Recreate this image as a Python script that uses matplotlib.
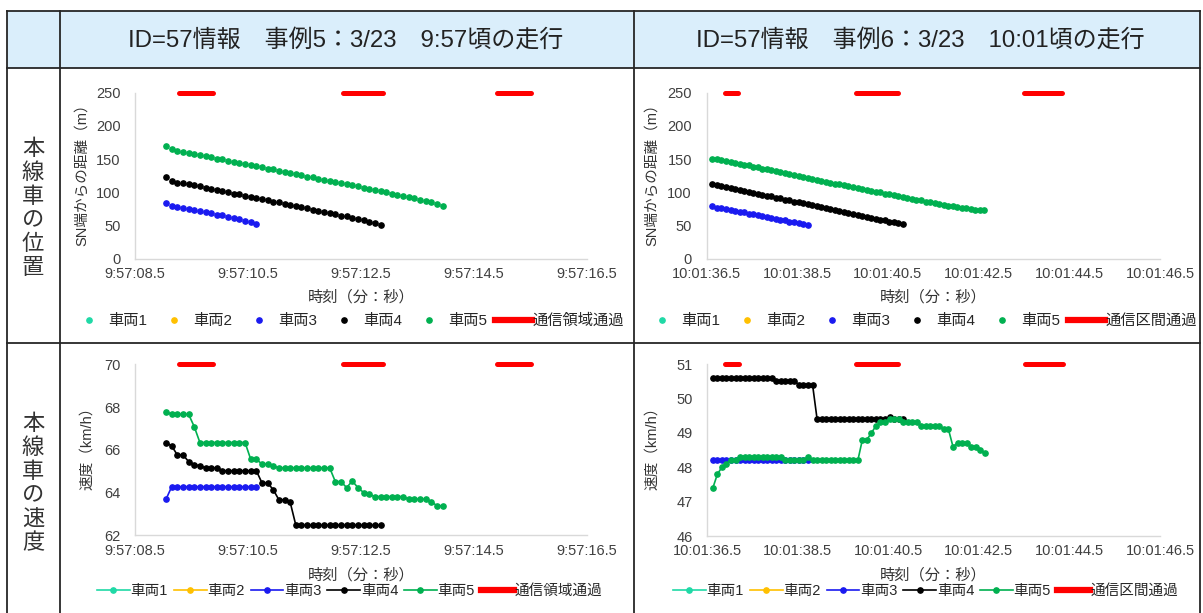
import numpy as np
import matplotlib
matplotlib.use('Agg')
import matplotlib.pyplot as plt
from matplotlib.lines import Line2D
from matplotlib.patches import Rectangle

plt.rcParams['font.family'] = ['Liberation Sans', 'Noto Sans CJK JP']

# ---------------- data ----------------
vehicle_names = ['車両1', '車両2', '車両3', '車両4', '車両5']
vehicle_colors = ['#1FD9A6', '#FFC000', '#1A1AF0', '#000000', '#00B050']
DT = 0.1  # sampling interval (s)

# Case 5 (9:57) : seconds within minute 9:57
c5_t0 = 9.05
c5_dist_v1 = []
c5_dist_v2 = []
c5_dist_v3 = [84, 79, 77.5, 76.5, 75.5, 74, 72.5, 70.5, 68.5, 66.5, 65.5, 63, 61.5, 59.5, 57.5, 55, 53]
c5_dist_v4 = [123, 117, 115, 114, 112, 111, 109, 107, 105, 104, 102, 100, 98, 97, 95, 93, 92, 90, 88, 86,
              85, 83, 81, 79, 78, 76, 74, 72, 71, 69, 67, 65, 64, 62, 60, 58, 56, 54, 51]
c5_dist_v5 = [170, 165, 163, 161, 160, 158, 156, 155, 153, 151, 150, 148, 146, 145, 143, 141, 140, 138, 136, 135,
              133, 131, 129, 128, 126, 124, 123, 121, 119, 118, 116, 114, 112, 111, 109, 107, 105, 104, 102, 100,
              98, 96, 95, 93, 91, 89, 87, 85, 83, 80]
c5_spd_v1 = []
c5_spd_v2 = []
c5_spd_v3 = [63.69] + [64.27] * 16
c5_spd_v4 = [66.34, 66.18, 65.76, 65.76, 65.45, 65.30, 65.25, 65.15, 65.15, 65.15,
             65.02, 65.02, 65.02, 65.02, 65.02, 65.02, 65.02,
             64.45, 64.45, 64.13, 63.66, 63.66, 63.54] + [62.47] * 16
c5_spd_v5 = [67.78, 67.66, 67.66, 67.66, 67.66, 67.08] + [66.34] * 9 + \
            [65.56, 65.56, 65.33, 65.33, 65.25] + [65.15] * 10 + \
            [64.51, 64.51, 64.23, 64.54, 64.23, 64.00, 63.92] + [63.81] * 6 + \
            [63.69] * 4 + [63.58, 63.38, 63.38]
c5_pass_start = [9.28, 12.19, 14.91]
c5_pass_end = [9.88, 12.90, 15.51]
c5_xticks = [8.5, 10.5, 12.5, 14.5, 16.5]
c5_xticklabels = ['9:57:08.5', '9:57:10.5', '9:57:12.5', '9:57:14.5', '9:57:16.5']

# Case 6 (10:01) : seconds within minute 10:01
c6_t0 = 36.63
c6_dist_v1 = []
c6_dist_v2 = []
c6_dist_v3 = [79, 77, 76, 75, 74, 72, 71, 70, 68, 67, 66, 64, 63, 62, 60, 59, 58, 56, 55, 54, 52, 51]
c6_dist_v4 = [112, 111, 109, 108, 106, 105, 104, 102, 101, 99, 98, 96, 95, 94, 92, 91, 89, 88, 86, 85,
              84, 82, 81, 79, 78, 76, 75, 73, 72, 70, 69, 68, 66, 65, 63, 62, 60, 59, 58, 56, 55, 54, 52]
c6_dist_v5 = [151, 150, 149, 147, 146, 145, 143, 142, 141, 139, 138, 136, 135, 134, 132, 131, 129, 128, 126, 125,
              123, 122, 120, 119, 118, 116, 115, 113, 112, 111, 109, 108, 106, 105, 104, 102, 101, 100, 98, 97,
              96, 94, 93, 92, 90, 89, 88, 86, 85, 84, 82, 81, 80, 79, 78, 77, 76, 75, 74, 74, 74]
c6_spd_v1 = []
c6_spd_v2 = []
c6_spd_v3 = [48.2] * 22
c6_spd_v4 = [50.6] * 14 + [50.5] * 5 + [50.4] * 4 + [49.4] * 16 + [49.45] + [49.4] * 3
c6_spd_v5 = [47.4, 47.8, 48.0, 48.1, 48.2, 48.2] + [48.3] * 10 + [48.2] * 5 + [48.3] + [48.2] * 11 + \
            [48.8, 48.8, 49.0, 49.2, 49.3, 49.3, 49.4, 49.4, 49.4] + [49.3] * 4 + [49.2] * 5 + \
            [49.1, 49.1, 48.6, 48.7, 48.7, 48.7, 48.6, 48.6, 48.5, 48.4]
c6_pass_start = [36.90, 39.79, 43.51]
c6_pass_end = [37.20, 40.72, 44.35]
c6_xticks = [36.5, 38.5, 40.5, 42.5, 44.5, 46.5]
c6_xticklabels = ['10:01:36.5', '10:01:38.5', '10:01:40.5', '10:01:42.5', '10:01:44.5', '10:01:46.5']

titles = ['ID=57情報　事例5：3/23　9:57頃の走行', 'ID=57情報　事例6：3/23　10:01頃の走行']
row_labels = ['本線車の位置', '本線車の速度']
pass_labels = ['通信領域通過', '通信区間通過']
dist_label = 'SN端からの距離（m）'
spd_label = '速度（km/h）'
time_label = '時刻（分：秒）'

# ---------------- figure ----------------
W, H = 1203, 613
fig = plt.figure(figsize=(W / 100, H / 100), dpi=100)


def fx(x):
    return x / W


def fy(y):
    return 1 - y / H


# table frame
fig.patches.append(Rectangle((fx(7), fy(68)), fx(1200) - fx(7), fy(11) - fy(68),
                             transform=fig.transFigure, facecolor='#DAEEFB',
                             edgecolor='none', zorder=0))
lc = '#262626'
for y in [11, 68, 343]:
    fig.add_artist(Line2D([fx(7), fx(1200)], [fy(y), fy(y)], color=lc, lw=1.3))
for x in [7, 60, 634, 1200]:
    fig.add_artist(Line2D([fx(x), fx(x)], [fy(11), fy(613)], color=lc, lw=1.3))

fig.text(fx(346), fy(40), titles[0], ha='center', va='center', fontsize=17.3, color='#222222')
fig.text(fx(920), fy(40), titles[1], ha='center', va='center', fontsize=17.3, color='#222222')

for center, lab in zip([208, 483], row_labels):
    n = len(lab)
    for i, ch in enumerate(lab):
        fig.text(fx(33), fy(center + (i - (n - 1) / 2) * 23.8), ch, ha='center', va='center',
                 fontsize=16, color='#333333', family=['Noto Sans CJK JP'])


def make_ax(l, t, r, b):
    ax = fig.add_axes([fx(l), fy(b), fx(r) - fx(l), fy(t) - fy(b)])
    for s in ['top', 'right']:
        ax.spines[s].set_visible(False)
    for s in ['left', 'bottom']:
        ax.spines[s].set_color('#D9D9D9')
        ax.spines[s].set_linewidth(1.0)
    ax.tick_params(length=0, labelsize=10.5, labelcolor='#404040')
    ax.tick_params(axis='y', pad=10.5)
    ax.tick_params(axis='x', pad=6)
    ax.set_facecolor('none')
    return ax


def times(t0, vals):
    return t0 + DT * np.arange(len(vals))


panels = [
    dict(box=(135, 92.7, 586.5, 259), t0=c5_t0,
         series=[c5_dist_v1, c5_dist_v2, c5_dist_v3, c5_dist_v4, c5_dist_v5],
         ylim=(0, 250), yticks=[0, 50, 100, 150, 200, 250], ylabel=dist_label,
         xticks=c5_xticks, xticklabels=c5_xticklabels, ps=c5_pass_start, pe=c5_pass_end,
         plab=pass_labels[0], line=False, ylab_x=82, xlab_y=297, leg=(71, 321)),
    dict(box=(706.5, 92.7, 1160, 259), t0=c6_t0,
         series=[c6_dist_v1, c6_dist_v2, c6_dist_v3, c6_dist_v4, c6_dist_v5],
         ylim=(0, 250), yticks=[0, 50, 100, 150, 200, 250], ylabel=dist_label,
         xticks=c6_xticks, xticklabels=c6_xticklabels, ps=c6_pass_start, pe=c6_pass_end,
         plab=pass_labels[1], line=False, ylab_x=652, xlab_y=297, leg=(644, 321)),
    dict(box=(135, 364.3, 586.5, 535.3), t0=c5_t0,
         series=[c5_spd_v1, c5_spd_v2, c5_spd_v3, c5_spd_v4, c5_spd_v5],
         ylim=(62, 70), yticks=[62, 64, 66, 68, 70], ylabel=spd_label,
         xticks=c5_xticks, xticklabels=c5_xticklabels, ps=c5_pass_start, pe=c5_pass_end,
         plab=pass_labels[0], line=True, ylab_x=87, xlab_y=575, leg=(97, 591)),
    dict(box=(707, 364, 1160, 536), t0=c6_t0,
         series=[c6_spd_v1, c6_spd_v2, c6_spd_v3, c6_spd_v4, c6_spd_v5],
         ylim=(46, 51), yticks=[46, 47, 48, 49, 50, 51], ylabel=spd_label,
         xticks=c6_xticks, xticklabels=c6_xticklabels, ps=c6_pass_start, pe=c6_pass_end,
         plab=pass_labels[1], line=True, ylab_x=652, xlab_y=575, leg=(673, 591)),
]

for p in panels:
    l, t, r, b = p['box']
    ax = make_ax(l, t, r, b)
    handles = []
    for vals, name, col in zip(p['series'], vehicle_names, vehicle_colors):
        x = times(p['t0'], vals)
        if p['line']:
            h, = ax.plot(x, vals, color=col, lw=1.2, marker='o', ms=3.8, label=name, clip_on=False)
        else:
            h, = ax.plot(x, vals, ls='none', color=col, marker='o', ms=3.8, label=name, clip_on=False)
        handles.append(h)
    ymax = p['ylim'][1]
    for s, e in zip(p['ps'], p['pe']):
        ax.plot([s, e], [ymax, ymax], color='#FF0000', lw=3.6, solid_capstyle='round',
                clip_on=False)
    handles.append(Line2D([], [], color='#FF0000', lw=4.5))
    ax.set_xlim(p['xticks'][0], p['xticks'][-1])
    ax.set_ylim(*p['ylim'])
    ax.set_xticks(p['xticks'])
    ax.set_xticklabels(p['xticklabels'])
    ax.set_yticks(p['yticks'])
    ax.set_yticklabels([str(v) for v in p['yticks']])

    wpx, hpx = r - l, b - t
    ax.set_ylabel(p['ylabel'], fontsize=10.5, color='#333333')
    ax.yaxis.label.set_va('center')
    ax.yaxis.set_label_coords((p['ylab_x'] - l) / wpx, 0.5 + 5 / hpx)
    ax.set_xlabel(time_label, fontsize=11, color='#333333')
    ax.xaxis.label.set_va('center')
    ax.xaxis.set_label_coords(0.5, -(p['xlab_y'] - b) / hpx)

    labels = vehicle_names + [p['plab']]
    if p['line']:
        leg = ax.legend(handles, labels, ncol=6, loc='center left',
                        bbox_to_anchor=(fx(p['leg'][0]), fy(p['leg'][1])),
                        bbox_transform=fig.transFigure, frameon=False, borderpad=0,
                        fontsize=10.5, handlelength=2.25, handletextpad=0.05,
                        columnspacing=0.4, borderaxespad=0)
    else:
        leg = ax.legend(handles, labels, ncol=6, loc='center left',
                        bbox_to_anchor=(fx(p['leg'][0]), fy(p['leg'][1])),
                        bbox_transform=fig.transFigure, frameon=False, borderpad=0,
                        fontsize=11, handlelength=2.4, handletextpad=0.05,
                        columnspacing=0.55, borderaxespad=0)
    for txt in leg.get_texts():
        txt.set_color('#262626')

fig.savefig('out.png', dpi=100)
